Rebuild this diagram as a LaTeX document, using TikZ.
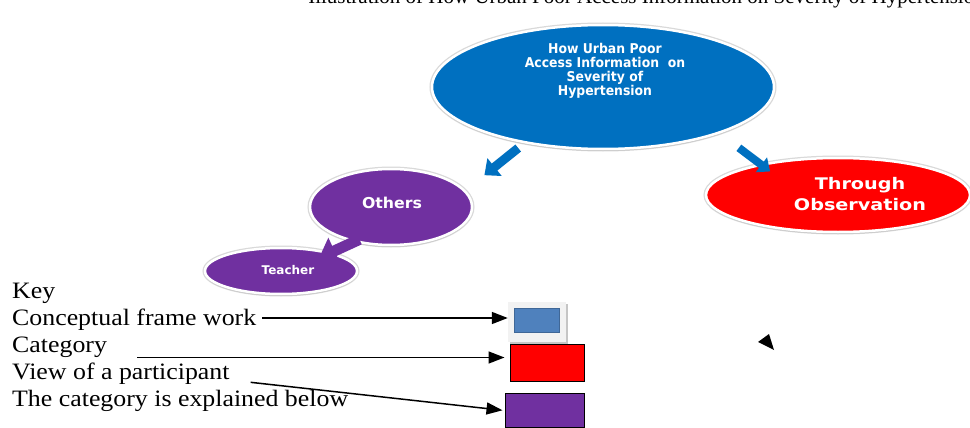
\documentclass[tikz,border=0pt]{standalone}
\usepackage{fontspec}
\usepackage{graphicx}
\setmainfont{Liberation Serif}
\newfontfamily\verdfont{DejaVu Sans}
\usetikzlibrary{shapes.geometric,arrows.meta,shadows}

\definecolor{mainblue}{HTML}{0070C0}
\definecolor{catred}{HTML}{FF0000}
\definecolor{viewpurple}{HTML}{7030A0}
\definecolor{keyblue}{HTML}{4F81BD}

\newcommand{\widetext}[2]{\scalebox{#1}[1]{\begin{tabular}{@{}c@{}}#2\end{tabular}}}

\tikzset{
  bubble/.style={ellipse, inner sep=0pt, draw=white, line width=2.5pt,
    preaction={draw=black!15, line width=5pt},
    drop shadow={shadow xshift=0pt, shadow yshift=-2pt, opacity=0.2}},
  bubbletext/.style={inner sep=0pt, text=white},
  keytext/.style={anchor=base west, inner sep=0pt, font=\fontsize{23.5}{27}\selectfont},
  keyarrow/.style={line width=1.5pt, -{Triangle[length=16pt, width=12pt]}},
  keybox/.style={rectangle, inner sep=0pt, draw=black, line width=1pt},
}

\begin{document}
\begin{tikzpicture}[x=1pt, y=-1pt]
  \useasboundingbox (0,0) rectangle (970,428);
  \clip (0,0) rectangle (970,428);
  \fill[white] (0,0) rectangle (970,428);

  % title line, cut at the top edge
  \node[anchor=base east, inner sep=0pt, font=\fontsize{21}{25}\selectfont] (title) at (985,4)
    {Illustration of How Urban Poor Access Information on Severity of Hypertension};

  % bubbles
  \node[bubble, fill=mainblue, minimum width=342, minimum height=124] (main) at (603,87) {};
  \node[bubble, fill=viewpurple, minimum width=162, minimum height=76] (others) at (391,207) {};
  \node[bubble, fill=viewpurple, minimum width=152, minimum height=46] (teacher) at (281,271) {};
  \node[bubble, fill=catred, minimum width=264, minimum height=74] (observe) at (838,195) {};

  \node[bubbletext, font=\verdfont\bfseries\fontsize{13.5}{12.8}\selectfont] (main-text) at (605,71)
    {\widetext{0.92}{How Urban Poor\\Access Information~~on\\Severity of\\Hypertension}};
  \node[bubbletext, font=\verdfont\bfseries\fontsize{15}{16}\selectfont] (others-text) at (392,205)
    {\widetext{1.05}{Others}};
  \node[bubbletext, font=\verdfont\bfseries\fontsize{12}{13}\selectfont] (teacher-text) at (288,272)
    {\widetext{1.0}{Teacher}};
  \node[bubbletext, font=\verdfont\bfseries\fontsize{16}{21}\selectfont] (observe-text) at (860,196)
    {\widetext{1.2}{Through\\Observation}};

  % block arrows
  \draw[mainblue, line width=9pt, -{Triangle[length=13pt, width=22pt]}]
    ([yshift=-6pt]main.213) -- ([xshift=28pt, yshift=8pt]others.20);
  \draw[mainblue, line width=8pt, -{Triangle[length=11pt, width=18pt]}]
    ([xshift=20pt, yshift=-14pt]main.338) -- ([xshift=2pt, yshift=-9pt]observe.155);
  \draw[viewpurple, line width=11pt, -{Triangle[length=17pt, width=28pt]}]
    ([xshift=8pt, yshift=2pt]others.221) -- ([xshift=38pt, yshift=13pt]teacher.center);

  % key
  \node[keytext] (key) at (12,298) {\scalebox{1.1}[1]{Key}};
  \node[keytext] (conc) at (12,325) {\scalebox{1.1}[1]{Conceptual frame work}};
  \node[keytext] (cat) at (12,352) {\scalebox{1.1}[1]{Category}};
  \node[keytext] (view) at (12,379) {\scalebox{1.1}[1]{View of a participant}};
  \node[keytext] (below) at (12,406) {\scalebox{1.1}[1]{The category is explained below}};

  \node[rectangle, inner sep=0pt, fill=gray!10, minimum width=58, minimum height=40,
        drop shadow={shadow xshift=2pt, shadow yshift=-2pt, opacity=0.45}] (bluebox) at (537,322) {};
  \node[rectangle, inner sep=0pt, fill=keyblue, draw=keyblue!80!black, line width=0.4pt,
        minimum width=45, minimum height=24] (bluefill) at (537,320) {};
  \node[keybox, fill=catred, minimum width=74, minimum height=37] (redbox) at (547,362.5) {};
  \node[keybox, fill=viewpurple, minimum width=79, minimum height=34] (purplebox) at (544.5,410.5) {};

  \draw[keyarrow, shorten <=6pt] (conc.east |- bluebox.west) ++(0,-4) -- ([yshift=4pt]bluebox.west);
  \draw[keyarrow, shorten <=30pt, shorten >=5pt] ([yshift=5pt]cat.east |- redbox.west) -- ([yshift=5pt]redbox.west);
  \draw[keyarrow, shorten <=21pt, shorten >=2pt] ([yshift=-1pt]view.base east) -- (purplebox.west);

  % stray arrow tip
  \fill (758,342) -- (769,334) -- (774,350) -- cycle;
\end{tikzpicture}
\end{document}
